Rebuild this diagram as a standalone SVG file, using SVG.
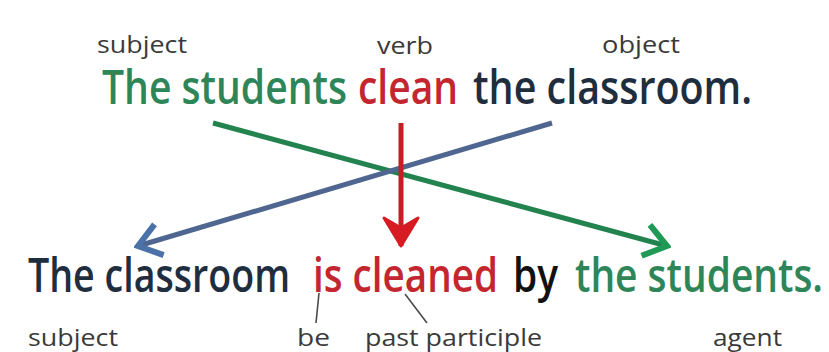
<svg xmlns="http://www.w3.org/2000/svg" width="829" height="352" viewBox="0 0 829 352">
<style>
.main{font-family:"Open Sans","Noto Sans",sans-serif;font-weight:600;font-size:47px}
.lab{font-family:"Open Sans","Noto Sans",sans-serif;font-weight:400;font-size:23px;fill:#3a3a3a}
.green{fill:#2e8558}
.red{fill:#c42630}
.navy{fill:#1f2e3f}
.black{fill:#111111}
.conn{fill:none;stroke-width:5}
.lead{fill:none;stroke:#4a4a4a;stroke-width:1.6}
</style>
<defs>
<marker id="hGreen" viewBox="-32 -20 36 40" refX="0" refY="0" markerWidth="36" markerHeight="40" markerUnits="userSpaceOnUse" orient="auto">
<path d="M-22,-16 L0,0 L-22,16" fill="none" stroke="#1f9a55" stroke-width="6"/>
</marker>
<marker id="hBlue" viewBox="-32 -20 36 40" refX="0" refY="0" markerWidth="36" markerHeight="40" markerUnits="userSpaceOnUse" orient="auto">
<path d="M-22,-16 L0,0 L-22,16" fill="none" stroke="#4a72a8" stroke-width="6"/>
</marker>
<marker id="hRed" viewBox="-32 -20 36 40" refX="0" refY="0" markerWidth="36" markerHeight="40" markerUnits="userSpaceOnUse" orient="auto">
<path d="M-28,-17 L0,0 L-28,17 L-18,0 Z" fill="#d61c22" stroke="#d61c22" stroke-width="3" stroke-linejoin="round"/>
</marker>
</defs>
<rect width="829" height="352" fill="#ffffff"/>
<g id="connectors">
<line class="conn" x1="213" y1="123" x2="667" y2="246" stroke="#23834f" marker-end="url(#hGreen)"/>
<line class="conn" x1="552" y1="123" x2="138" y2="246" stroke="#4f6790" marker-end="url(#hBlue)"/>
<line class="conn" x1="401" y1="123" x2="401" y2="246" stroke="#c31f24" marker-end="url(#hRed)"/>
<line class="lead" x1="319" y1="293" x2="316" y2="323"/>
<line class="lead" x1="405" y1="294" x2="427" y2="323"/>
</g>
<g id="active-labels">
<text class="lab" x="97" y="53" textLength="90" lengthAdjust="spacingAndGlyphs">subject</text>
<text class="lab" x="377" y="54" textLength="56" lengthAdjust="spacingAndGlyphs">verb</text>
<text class="lab" x="602" y="53" textLength="78" lengthAdjust="spacingAndGlyphs">object</text>
</g>
<g id="active-sentence">
<text class="main green" x="102" y="104" textLength="245" lengthAdjust="spacingAndGlyphs">The students</text>
<text class="main red" x="358" y="104" textLength="100" lengthAdjust="spacingAndGlyphs">clean</text>
<text class="main navy" x="473" y="104" textLength="279" lengthAdjust="spacingAndGlyphs">the classroom.</text>
</g>
<g id="passive-sentence">
<text class="main navy" x="28" y="292" textLength="262" lengthAdjust="spacingAndGlyphs">The classroom</text>
<text class="main red" x="313" y="292" textLength="185" lengthAdjust="spacingAndGlyphs">is cleaned</text>
<text class="main black" x="513" y="292" textLength="45" lengthAdjust="spacingAndGlyphs">by</text>
<text class="main green" x="575" y="292" textLength="248" lengthAdjust="spacingAndGlyphs">the students.</text>
</g>
<g id="passive-labels">
<text class="lab" x="28" y="346" textLength="90" lengthAdjust="spacingAndGlyphs">subject</text>
<text class="lab" x="297" y="346" textLength="33" lengthAdjust="spacingAndGlyphs">be</text>
<text class="lab" x="365" y="346" textLength="177" lengthAdjust="spacingAndGlyphs">past participle</text>
<text class="lab" x="713" y="346" textLength="69" lengthAdjust="spacingAndGlyphs">agent</text>
</g>
</svg>
